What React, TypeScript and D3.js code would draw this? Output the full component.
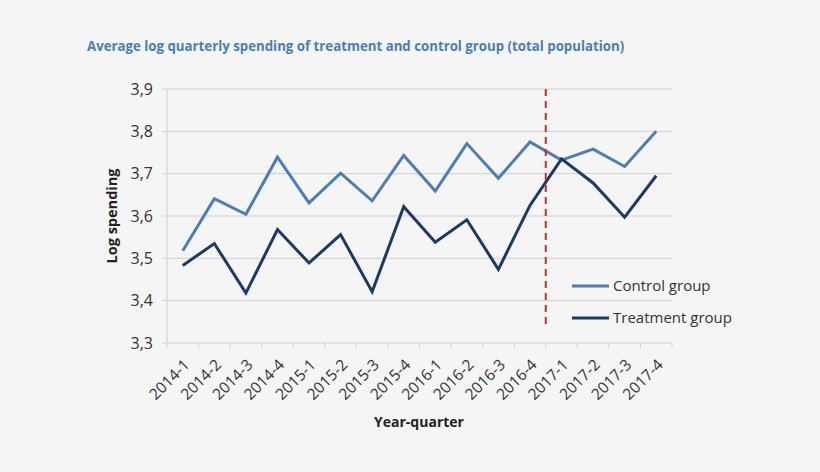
import { useEffect, useRef } from 'react';
import * as d3 from 'd3';

const quarters = [
  '2014-1', '2014-2', '2014-3', '2014-4',
  '2015-1', '2015-2', '2015-3', '2015-4',
  '2016-1', '2016-2', '2016-3', '2016-4',
  '2017-1', '2017-2', '2017-3', '2017-4',
];
const controlGroup = [3.518, 3.641, 3.604, 3.739, 3.631, 3.701, 3.636, 3.743, 3.659, 3.771, 3.689, 3.775, 3.732, 3.758, 3.717, 3.800];
const treatmentGroup = [3.483, 3.535, 3.418, 3.568, 3.489, 3.556, 3.421, 3.622, 3.538, 3.591, 3.474, 3.625, 3.735, 3.678, 3.597, 3.695];
const yTicks = [3.3, 3.4, 3.5, 3.6, 3.7, 3.8, 3.9];
const cutoffQuarter = '2017-1';

const series = [
  { name: 'Control group', values: controlGroup, color: '#4a7ebb' },
  { name: 'Treatment group', values: treatmentGroup, color: '#1b3a67' },
];

const W = 820;
const H = 472;
const margin = { top: 89, right: 148, bottom: 129, left: 167 };
const font = '"Open Sans", "Liberation Sans", sans-serif';

export default function App() {
  const svgRef = useRef<SVGSVGElement>(null);

  useEffect(() => {
    if (!svgRef.current) return;
    const svg = d3.select(svgRef.current);
    svg.selectAll('*').remove();

    const x = d3.scaleBand().domain(quarters).range([margin.left, W - margin.right]);
    const y = d3.scaleLinear().domain([3.3, 3.9]).range([H - margin.bottom, margin.top]);

    svg.append('rect').attr('width', W).attr('height', H).attr('fill', '#f5f5f5');

    // title
    svg.append('text')
      .attr('x', 87).attr('y', 51)
      .attr('font-family', font).attr('font-size', 13.25).attr('font-weight', 'bold')
      .attr('fill', '#4a7ebb')
      .text('Average log quarterly spending of treatment and control group (total population)');

    // gridlines
    svg.append('g')
      .selectAll('line')
      .data(yTicks)
      .join('line')
      .attr('x1', margin.left - 5).attr('x2', W - margin.right)
      .attr('y1', d => y(d)).attr('y2', d => y(d))
      .attr('stroke', '#cfcfcf').attr('stroke-width', 1);

    // y labels
    svg.append('g')
      .selectAll('text')
      .data(yTicks)
      .join('text')
      .attr('x', margin.left - 14).attr('y', d => y(d))
      .attr('dy', '0.35em')
      .attr('text-anchor', 'end')
      .attr('font-family', font).attr('font-size', 16).attr('fill', '#333')
      .text(d => d3.format('.1f')(d).replace('.', ','));

    // y axis line
    svg.append('line')
      .attr('x1', margin.left).attr('x2', margin.left)
      .attr('y1', y(3.9)).attr('y2', y(3.3))
      .attr('stroke', '#cfcfcf');

    // x ticks between categories
    const bounds = quarters.map(q => x(q) as number).concat([W - margin.right]);
    svg.append('g')
      .selectAll('line')
      .data(bounds)
      .join('line')
      .attr('x1', d => d).attr('x2', d => d)
      .attr('y1', y(3.3)).attr('y2', y(3.3) + 5)
      .attr('stroke', '#cfcfcf');

    // x labels
    svg.append('g')
      .selectAll('text')
      .data(quarters)
      .join('text')
      .attr('transform', d => `translate(${(x(d) as number) + x.bandwidth() / 2 + 4},${y(3.3) + 19}) rotate(-45)`)
      .attr('text-anchor', 'end')
      .attr('dy', '0.35em')
      .attr('font-family', font).attr('font-size', 15.5).attr('fill', '#333')
      .text(d => d);

    // axis titles
    svg.append('text')
      .attr('transform', `translate(117,${(y(3.3) + y(3.9)) / 2}) rotate(-90)`)
      .attr('text-anchor', 'middle')
      .attr('font-family', font).attr('font-size', 14.5).attr('font-weight', 'bold').attr('fill', '#222')
      .text('Log spending');
    svg.append('text')
      .attr('x', 419).attr('y', 427)
      .attr('text-anchor', 'middle')
      .attr('font-family', font).attr('font-size', 14).attr('font-weight', 'bold').attr('fill', '#222')
      .text('Year-quarter');

    // lines
    const line = d3.line<number>()
      .x((_, i) => (x(quarters[i]) as number) + x.bandwidth() / 2)
      .y(d => y(d));
    series.forEach(s => {
      svg.append('path')
        .attr('d', line(s.values))
        .attr('fill', 'none')
        .attr('stroke', s.color)
        .attr('stroke-width', 3)
        .attr('stroke-linejoin', 'miter');
    });

    // cutoff
    const cx = x(cutoffQuarter) as number;
    svg.append('line')
      .attr('x1', cx).attr('x2', cx)
      .attr('y1', y(3.9)).attr('y2', 328)
      .attr('stroke', '#d42a2a').attr('stroke-width', 2)
      .attr('stroke-dasharray', '7,5');

    // legend
    const legend = svg.append('g');
    series.forEach((s, i) => {
      const ly = 286 + i * 32;
      legend.append('line')
        .attr('x1', 572).attr('x2', 609).attr('y1', ly).attr('y2', ly)
        .attr('stroke', s.color).attr('stroke-width', 3);
      legend.append('text')
        .attr('x', 613).attr('y', ly).attr('dy', '0.35em')
        .attr('font-family', font).attr('font-size', 15).attr('fill', '#333')
        .text(s.name);
    });
  }, []);

  return (
    <svg ref={svgRef} width={W} height={H} style={{ position: 'absolute', left: 0, top: 0 }} />
  );
}
